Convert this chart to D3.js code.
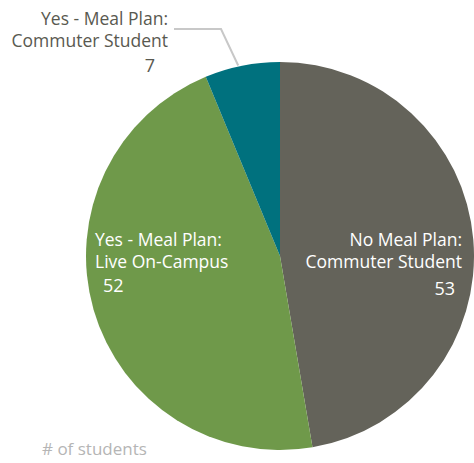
<!DOCTYPE html>
<html><head><meta charset="utf-8">
<script src="https://cdn.jsdelivr.net/npm/d3@7"></script>
<style>html,body{margin:0;padding:0;background:#fff;overflow:hidden}</style>
</head><body>
<svg id="c" width="474" height="463"></svg>
<script>
const categories = ["No Meal Plan: Commuter Student", "Yes - Meal Plan: Live On-Campus", "Yes - Meal Plan: Commuter Student"];
const labelLines = [["No Meal Plan:", "Commuter Student"], ["Yes - Meal Plan:", "Live On-Campus"], ["Yes - Meal Plan:", "Commuter Student"]];
const values = [53, 52, 7];
const colors = ["#64635a", "#6f994a", "#00717e"];
const axisTitle = "# of students";

const svg = d3.select("#c");
const cx = 280, cy = 256, r = 194;
const font = "'Open Sans', sans-serif";

const pie = d3.pie().sort(null).value(d => d)(values);
const arc = d3.arc().innerRadius(0).outerRadius(r);
const g = svg.append("g").attr("transform", `translate(${cx},${cy})`);
g.selectAll("path").data(pie).join("path")
  .attr("d", arc).attr("fill", (d, i) => colors[i]);

// label layout (pixel anchors)
const layout = [
  {x: 462, y: 246, anchor: "end", color: "#ffffff", numDx: -7, numDy: 49},
  {x: 95, y: 246, anchor: "start", color: "#ffffff", numDx: 8, numDy: 46},
  {x: 168, y: 25, anchor: "end", color: "#595950", numDx: -13, numDy: 47}
];
const fs = 17.5, lh = 22;
pie.forEach((d, i) => {
  const L = layout[i];
  const t = svg.append("text").attr("font-family", font).attr("font-size", fs)
    .attr("fill", L.color).attr("text-anchor", L.anchor);
  labelLines[i].forEach((ln, k) => {
    t.append("tspan").attr("x", L.x).attr("y", L.y + k * lh).text(ln);
  });
  t.append("tspan").attr("x", L.x + L.numDx).attr("y", L.y + L.numDy).attr("font-size", 18).text(values[i]);
});

// leader line for small slice
const small = pie[2];
const a = small.startAngle + (small.endAngle - small.startAngle) * 0.45;
const p0 = [cx + Math.sin(a) * (r + 1), cy - Math.cos(a) * (r + 1)];
svg.append("polyline")
  .attr("points", `${p0[0]},${p0[1]} ${221},${29} ${174},${29}`)
  .attr("fill", "none").attr("stroke", "#c8c8c8").attr("stroke-width", 2);

svg.append("text").attr("x", 42).attr("y", 455)
  .attr("font-family", font).attr("font-size", 17).attr("fill", "#b5b5b5")
  .text(axisTitle);
</script>
</body></html>
